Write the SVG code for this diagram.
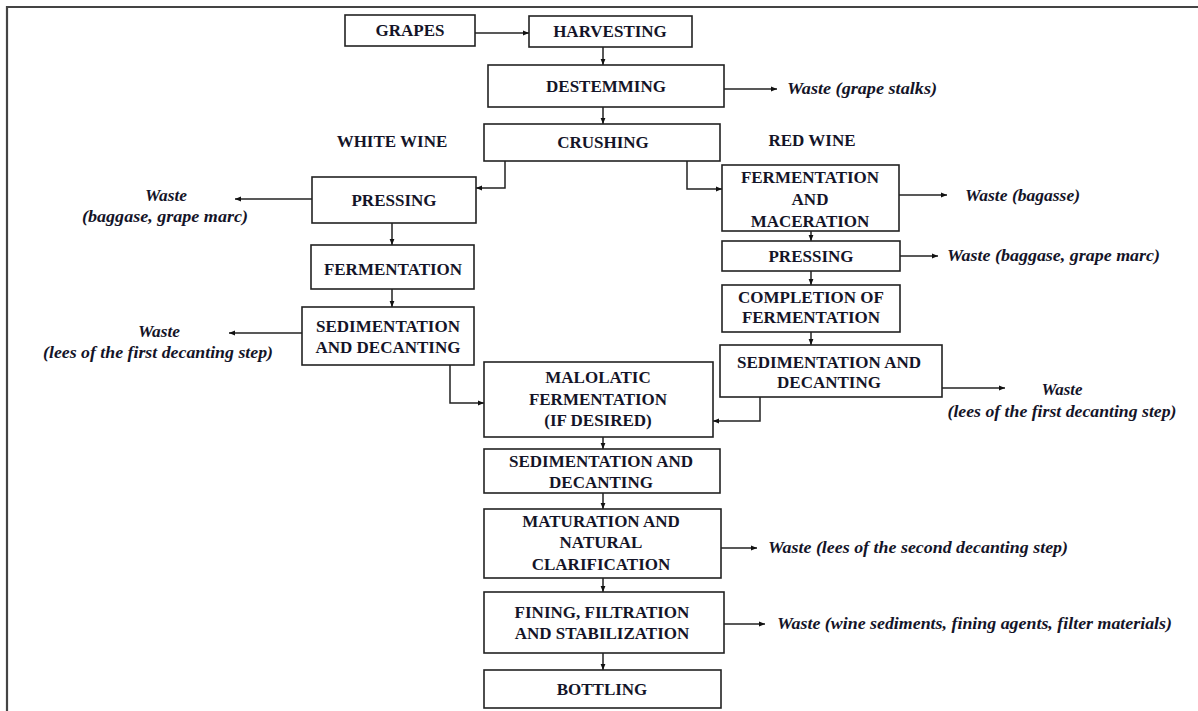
<svg xmlns="http://www.w3.org/2000/svg" width="1198" height="711" viewBox="0 0 1198 711">
<defs>
<marker id="ah" viewBox="0 0 10 10" refX="10" refY="5" markerWidth="6" markerHeight="6" markerUnits="userSpaceOnUse" orient="auto">
<path d="M0,1 L10,5 L0,9 z" fill="#111"/>
</marker>
<style>
.box{fill:#fff;stroke:#222;stroke-width:1.6}
.t{font-family:'Liberation Serif','Times New Roman',serif;font-weight:bold;font-size:17px;fill:#141428;text-anchor:middle}
.w{font-family:'Liberation Serif','Times New Roman',serif;font-weight:bold;font-style:italic;font-size:17px;fill:#141428}
.c{fill:none;stroke:#222;stroke-width:1.5;marker-end:url(#ah)}
.frame{fill:none;stroke:#444;stroke-width:2.2}
</style>
</defs>
<rect width="1198" height="711" fill="#fff"/>
<path class="frame" d="M7,711 V7 H1198"/>

<g id="connectors">
<line class="c" x1="475" y1="33" x2="529" y2="33"/>
<line class="c" x1="603" y1="47" x2="603" y2="65"/>
<line class="c" x1="603" y1="107" x2="603" y2="124"/>
<line class="c" x1="724" y1="89" x2="777" y2="89"/>
<polyline class="c" points="505,161 505,188 476,188"/>
<polyline class="c" points="687,161 687,189 722,189"/>
<line class="c" x1="312" y1="199" x2="235" y2="199"/>
<line class="c" x1="392" y1="223" x2="392" y2="245"/>
<line class="c" x1="392" y1="289" x2="392" y2="307"/>
<line class="c" x1="302" y1="333" x2="229" y2="333"/>
<polyline class="c" points="450,365 450,403 484,403"/>
<line class="c" x1="899" y1="195" x2="947" y2="195"/>
<line class="c" x1="811" y1="231" x2="811" y2="241"/>
<line class="c" x1="900" y1="256" x2="938" y2="256"/>
<line class="c" x1="811" y1="271" x2="811" y2="285"/>
<line class="c" x1="811" y1="332" x2="811" y2="345"/>
<line class="c" x1="942" y1="388" x2="1005" y2="388"/>
<polyline class="c" points="760,397 760,421 713,421"/>
<line class="c" x1="603" y1="437" x2="603" y2="449"/>
<line class="c" x1="603" y1="493" x2="603" y2="509"/>
<line class="c" x1="721" y1="548" x2="757" y2="548"/>
<line class="c" x1="603" y1="578" x2="603" y2="592"/>
<line class="c" x1="724" y1="624" x2="765" y2="624"/>
<line class="c" x1="603" y1="653" x2="603" y2="670"/>
</g>

<g id="grapes"><rect class="box" x="345" y="15" width="130" height="31"/><text class="t" x="410" y="36">GRAPES</text></g>
<g id="harvesting"><rect class="box" x="529" y="16" width="163" height="31"/><text class="t" x="610" y="37">HARVESTING</text></g>
<g id="destemming"><rect class="box" x="488" y="65" width="236" height="42"/><text class="t" x="606" y="92">DESTEMMING</text></g>
<g id="crushing"><rect class="box" x="484" y="124" width="236" height="37"/><text class="t" x="603" y="148">CRUSHING</text></g>
<g id="label-white"><text class="t" x="392" y="147">WHITE WINE</text></g>
<g id="label-red"><text class="t" x="812" y="146">RED WINE</text></g>

<g id="w-pressing"><rect class="box" x="312" y="177" width="164" height="46"/><text class="t" x="394" y="206">PRESSING</text></g>
<g id="w-fermentation"><rect class="box" x="311" y="245" width="163" height="44"/><text class="t" x="393" y="275">FERMENTATION</text></g>
<g id="w-sedimentation"><rect class="box" x="302" y="307" width="172" height="58"/><text class="t" x="388" y="332">SEDIMENTATION</text><text class="t" x="388" y="353">AND DECANTING</text></g>

<g id="r-ferm-mac"><rect class="box" x="722" y="165" width="177" height="66"/><text class="t" x="810" y="183">FERMENTATION</text><text class="t" x="810" y="205">AND</text><text class="t" x="810" y="227">MACERATION</text></g>
<g id="r-pressing"><rect class="box" x="722" y="241" width="178" height="30"/><text class="t" x="811" y="262">PRESSING</text></g>
<g id="r-completion"><rect class="box" x="722" y="285" width="178" height="47"/><text class="t" x="811" y="303">COMPLETION OF</text><text class="t" x="811" y="323">FERMENTATION</text></g>
<g id="r-sedimentation"><rect class="box" x="720" y="345" width="222" height="52"/><text class="t" x="829" y="368">SEDIMENTATION AND</text><text class="t" x="829" y="388">DECANTING</text></g>

<g id="malolatic"><rect class="box" x="484" y="362" width="229" height="75"/><text class="t" x="598" y="383">MALOLATIC</text><text class="t" x="598" y="405">FERMENTATION</text><text class="t" x="598" y="426">(IF DESIRED)</text></g>
<g id="c-sedimentation"><rect class="box" x="484" y="449" width="236" height="44"/><text class="t" x="601" y="467">SEDIMENTATION  AND</text><text class="t" x="601" y="488">DECANTING</text></g>
<g id="maturation"><rect class="box" x="484" y="509" width="237" height="69"/><text class="t" x="601" y="527">MATURATION AND</text><text class="t" x="601" y="548">NATURAL</text><text class="t" x="601" y="570">CLARIFICATION</text></g>
<g id="fining"><rect class="box" x="484" y="592" width="240" height="61"/><text class="t" x="602" y="618">FINING, FILTRATION</text><text class="t" x="602" y="639">AND STABILIZATION</text></g>
<g id="bottling"><rect class="box" x="484" y="670" width="237" height="38"/><text class="t" x="602" y="695">BOTTLING</text></g>

<g id="waste-labels">
<text class="w" x="787" y="94" textLength="150" lengthAdjust="spacingAndGlyphs">Waste (grape stalks)</text>
<text class="w" x="166" y="201" text-anchor="middle" textLength="42" lengthAdjust="spacingAndGlyphs">Waste</text>
<text class="w" x="165" y="222" text-anchor="middle" textLength="166" lengthAdjust="spacingAndGlyphs">(baggase, grape marc)</text>
<text class="w" x="159" y="337" text-anchor="middle" textLength="42" lengthAdjust="spacingAndGlyphs">Waste</text>
<text class="w" x="158" y="358" text-anchor="middle" textLength="230" lengthAdjust="spacingAndGlyphs">(lees of the first decanting step)</text>
<text class="w" x="965" y="201" textLength="115" lengthAdjust="spacingAndGlyphs">Waste (bagasse)</text>
<text class="w" x="947" y="261" textLength="213" lengthAdjust="spacingAndGlyphs">Waste (baggase, grape marc)</text>
<text class="w" x="1062" y="395" text-anchor="middle" textLength="41" lengthAdjust="spacingAndGlyphs">Waste</text>
<text class="w" x="1062" y="417" text-anchor="middle" textLength="229" lengthAdjust="spacingAndGlyphs">(lees of the first decanting step)</text>
<text class="w" x="768" y="553" textLength="300" lengthAdjust="spacingAndGlyphs">Waste (lees of the second decanting step)</text>
<text class="w" x="777" y="629" textLength="395" lengthAdjust="spacingAndGlyphs">Waste (wine sediments, fining agents, filter materials)</text>
</g>
</svg>
